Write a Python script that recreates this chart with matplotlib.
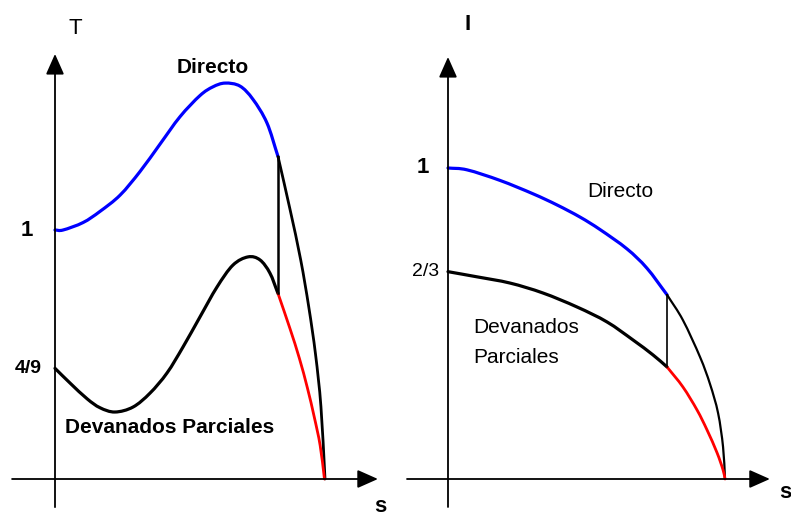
import numpy as np
import matplotlib
matplotlib.use("Agg")
import matplotlib.pyplot as plt
from matplotlib.path import Path
from matplotlib.patches import PathPatch

# ---- par (T) frente a s: arranque directo y por devanados parciales ----
t_dir_s = [0.0, 0.03, 0.104, 0.167, 0.241, 0.315, 0.389, 0.463, 0.537, 0.585,
           0.630, 0.685, 0.733, 0.785, 0.826]
t_dir_v = [1.0, 1.0, 1.030, 1.075, 1.140, 1.235, 1.345, 1.455, 1.540, 1.575,
           1.590, 1.578, 1.525, 1.430, 1.295]
t_dir_tail_s = [0.826, 0.870, 0.910, 0.940, 0.965, 0.985, 1.0]
t_dir_tail_v = [1.295, 1.085, 0.880, 0.690, 0.500, 0.290, 0.0]

t_par_s = [0.0, 0.056, 0.119, 0.167, 0.222, 0.289, 0.352, 0.415, 0.474, 0.537,
           0.600, 0.659, 0.715, 0.759, 0.796, 0.826]
t_par_v = [4 / 9, 0.385, 0.322, 0.286, 0.269, 0.289, 0.345, 0.426, 0.530, 0.651,
           0.771, 0.859, 0.892, 0.880, 0.827, 0.745]
t_par_tail_s = [0.826, 0.870, 0.905, 0.935, 0.960, 0.982, 0.998]
t_par_tail_v = [0.745, 0.605, 0.485, 0.365, 0.250, 0.135, 0.0]

# ---- corriente (I) frente a s ----
i_dir_s = [0.0, 0.069, 0.188, 0.307, 0.394, 0.477, 0.549, 0.646, 0.718, 0.791]
i_dir_v = [1.0, 0.994, 0.960, 0.917, 0.881, 0.842, 0.802, 0.740, 0.678, 0.592]
i_dir_tail_s = [0.791, 0.848, 0.910, 0.946, 0.975, 0.993, 1.0]
i_dir_tail_v = [0.592, 0.511, 0.392, 0.305, 0.212, 0.103, 0.0]

i_par_s = [0.0, 0.105, 0.224, 0.343, 0.466, 0.574, 0.668, 0.740, 0.791]
i_par_v = [2 / 3, 0.650, 0.630, 0.598, 0.553, 0.505, 0.447, 0.399, 0.360]
i_par_tail_s = [0.791, 0.848, 0.899, 0.935, 0.971, 0.993, 1.0]
i_par_tail_v = [0.360, 0.296, 0.222, 0.158, 0.085, 0.029, 0.0]

FONT = ["Liberation Sans", "DejaVu Sans"]
W, H = 791, 517


def smooth_curve(ax, xs, ys, **kw):
    """Curva suave (Catmull-Rom -> Bezier cubica) que pasa por los puntos."""
    p = np.column_stack([xs, ys]).astype(float)
    ext = np.vstack([2 * p[0] - p[1], p, 2 * p[-1] - p[-2]])
    verts = [p[0]]
    codes = [Path.MOVETO]
    for i in range(1, len(ext) - 2):
        p0, p1, p2, p3 = ext[i - 1], ext[i], ext[i + 1], ext[i + 2]
        verts += [p1 + (p2 - p0) / 6, p2 - (p3 - p1) / 6, p2]
        codes += [Path.CURVE4] * 3
    ax.add_patch(PathPatch(Path(verts, codes), fill=False, capstyle="round", **kw))


def draw_axes_arrows(ax, x0, x1, y0, y1):
    arrow = dict(arrowstyle="-|>,head_length=0.9,head_width=0.4",
                 mutation_scale=14, lw=1.3, color="black", shrinkA=0, shrinkB=0)
    ax.annotate("", xy=(x1, 0), xytext=(x0, 0), arrowprops=arrow)
    ax.annotate("", xy=(0, y1), xytext=(0, y0), arrowprops=arrow)


fig = plt.figure(figsize=(W / 100, H / 100), dpi=100)

# panel izquierdo (par)
ax1 = fig.add_axes([10 / W, 7 / H, 375 / W, 460 / H])
ax1.set_xlim(-45 / 270, 330 / 270)
ax1.set_ylim(-31 / 249, 429 / 249)
ax1.axis("off")
draw_axes_arrows(ax1, -0.159, 1.196, -0.113, 1.707)

smooth_curve(ax1, t_dir_s, t_dir_v, edgecolor="blue", lw=2.3)
smooth_curve(ax1, t_dir_tail_s, t_dir_tail_v, edgecolor="black", lw=2.0)
smooth_curve(ax1, t_par_s, t_par_v, edgecolor="black", lw=2.3)
smooth_curve(ax1, t_par_tail_s, t_par_tail_v, edgecolor="red", lw=2.0)
ax1.plot([t_par_s[-1], t_dir_s[-1]], [t_par_v[-1], t_dir_v[-1]],
         color="black", lw=1.8)

ax1.text(0.074, 1.811, "T", family=FONT, fontsize=16, ha="center", va="center")
ax1.text(0.585, 1.651, "Directo", family=FONT, fontsize=15, fontweight="bold",
         ha="center", va="center")
ax1.text(-0.104, 1.0, "1", family=FONT, fontsize=16, fontweight="bold",
         ha="center", va="center")
ax1.text(-0.1, 4 / 9, "4/9", family=FONT, fontsize=14, fontweight="bold",
         ha="center", va="center")
ax1.text(0.426, 0.205, "Devanados Parciales", family=FONT, fontsize=15,
         fontweight="bold", ha="center", va="center")
ax1.text(1.204, -0.112, "s", family=FONT, fontsize=16, fontweight="bold",
         ha="center", va="center")

# panel derecho (corriente)
ax2 = fig.add_axes([400 / W, 7 / H, 391 / W, 460 / H])
ax2.set_xlim(-48 / 277, 343 / 277)
ax2.set_ylim(-31 / 311, 429 / 311)
ax2.axis("off")
draw_axes_arrows(ax2, -0.148, 1.162, -0.09, 1.357)

smooth_curve(ax2, i_dir_s, i_dir_v, edgecolor="blue", lw=2.3)
smooth_curve(ax2, i_dir_tail_s, i_dir_tail_v, edgecolor="black", lw=1.6)
smooth_curve(ax2, i_par_s, i_par_v, edgecolor="black", lw=2.3)
smooth_curve(ax2, i_par_tail_s, i_par_tail_v, edgecolor="red", lw=2.0)
ax2.plot([i_par_s[-1], i_dir_s[-1]], [i_par_v[-1], i_dir_v[-1]],
         color="black", lw=1.2)

ax2.text(0.072, 1.460, "I", family=FONT, fontsize=16, fontweight="bold",
         ha="center", va="center")
ax2.text(-0.09, 1.0, "1", family=FONT, fontsize=16, fontweight="bold",
         ha="center", va="center")
ax2.text(-0.08, 2 / 3, "2/3", family=FONT, fontsize=14,
         ha="center", va="center")
ax2.text(0.621, 0.923, "Directo", family=FONT, fontsize=15,
         ha="center", va="center")
ax2.text(0.09, 0.486, "Devanados", family=FONT, fontsize=15,
         ha="left", va="center")
ax2.text(0.09, 0.392, "Parciales", family=FONT, fontsize=15,
         ha="left", va="center")
ax2.text(1.217, -0.045, "s", family=FONT, fontsize=16, fontweight="bold",
         ha="center", va="center")

fig.savefig("out.png", dpi=100)
